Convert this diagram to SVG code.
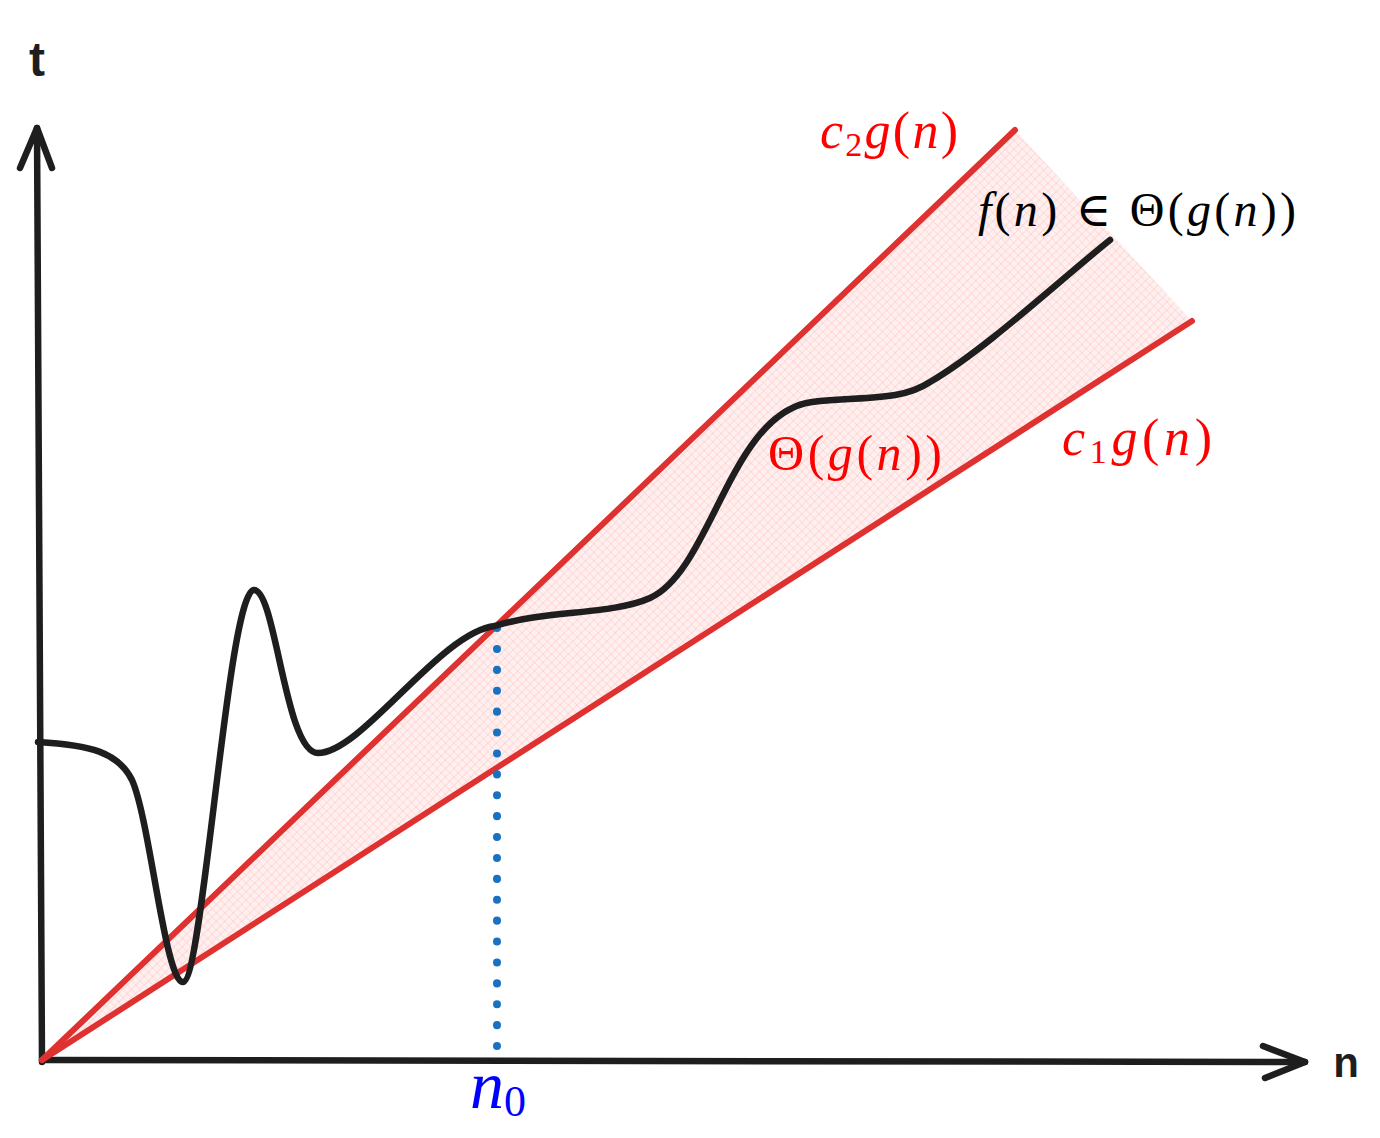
<svg xmlns="http://www.w3.org/2000/svg" width="1380" height="1138" viewBox="0 0 1380 1138">
<style>
.axis{stroke:#1e1e1e;stroke-width:6.5;fill:none;stroke-linecap:round;stroke-linejoin:round}
.bound{stroke:#e03131;stroke-width:6;fill:none;stroke-linecap:round}
.curve{stroke:#1e1e1e;stroke-width:6.5;fill:none;stroke-linecap:round}
.n0line{stroke:#1971c2;stroke-width:8;fill:none;stroke-linecap:round;stroke-dasharray:0.1 20.8}
.it{font-style:italic}
.hand{font-weight:bold;fill:#1e1e1e}
</style>
<defs>
<pattern id="hatch" width="6" height="6" patternUnits="userSpaceOnUse" patternTransform="rotate(45)">
<rect width="6" height="6" fill="#fff0f0"/>
<path d="M0,0 L0,6 M0,0 L6,0" stroke="#ffc9c9" stroke-width="1.2"/>
</pattern>
</defs>
<g id="region">
<polygon points="42,1060 1015,130 1192,321" fill="url(#hatch)"/>
</g>
<g id="connectors">
<path class="axis" d="M42,1062 L37,128"/>
<path class="axis" d="M20,168 L37,128 L52,168"/>
<path class="axis" d="M42,1060 L1305,1062"/>
<path class="axis" d="M1263,1046 L1305,1062 L1265,1078"/>
<path class="bound" d="M42,1060 L1015,130"/>
<path class="bound" d="M42,1060 L1192,321"/>
<path class="n0line" d="M497,628 L497,1046"/>
</g>
<g id="f-curve">
<path class="curve" d="M38,742 C90,745 118,752 132,780 C150,820 165,982 183,982 C203,982 228,590 254,590 C276,590 285,753 318,753 C362,753 440,632 495,626 C545,610 612,615 650,598 C712,570 730,413 812,402 C860,396 900,402 930,382 C985,350 1060,280 1110,240"/>
</g>
<g id="label-t"><text class="hand" font-family="Liberation Sans, sans-serif" x="37" y="76" font-size="48" text-anchor="middle">t</text></g>
<g id="label-n"><text class="hand" font-family="Liberation Sans, sans-serif" x="1346" y="1077" font-size="42" text-anchor="middle">n</text></g>
<g id="label-c2"><text font-family="Liberation Serif, DejaVu Serif, serif" x="820" y="148" font-size="52" fill="#ff0000" textLength="138" lengthAdjust="spacing"><tspan class="it">c</tspan><tspan font-size="34" dy="8">2</tspan><tspan class="it" dy="-8">g</tspan>(<tspan class="it">n</tspan>)</text></g>
<g id="label-f"><text font-family="Liberation Serif, DejaVu Serif, serif" x="978" y="226" font-size="48" fill="#000" textLength="318" lengthAdjust="spacing"><tspan class="it">f</tspan>(<tspan class="it">n</tspan>) ∈ Θ(<tspan class="it">g</tspan>(<tspan class="it">n</tspan>))</text></g>
<g id="label-theta"><text font-family="Liberation Serif, DejaVu Serif, serif" x="768" y="470" font-size="50" fill="#ff0000" textLength="174" lengthAdjust="spacing">Θ(<tspan class="it">g</tspan>(<tspan class="it">n</tspan>))</text></g>
<g id="label-c1"><text font-family="Liberation Serif, DejaVu Serif, serif" x="1062" y="455" font-size="52" fill="#ff0000" textLength="150" lengthAdjust="spacing"><tspan class="it">c</tspan><tspan font-size="34" dy="8">1</tspan><tspan class="it" dy="-8">g</tspan>(<tspan class="it">n</tspan>)</text></g>
<g id="label-n0"><text font-family="Liberation Serif, DejaVu Serif, serif" x="470" y="1108" font-size="68" fill="#0000ff"><tspan class="it">n</tspan><tspan font-size="44" dy="8">0</tspan></text></g>
</svg>
